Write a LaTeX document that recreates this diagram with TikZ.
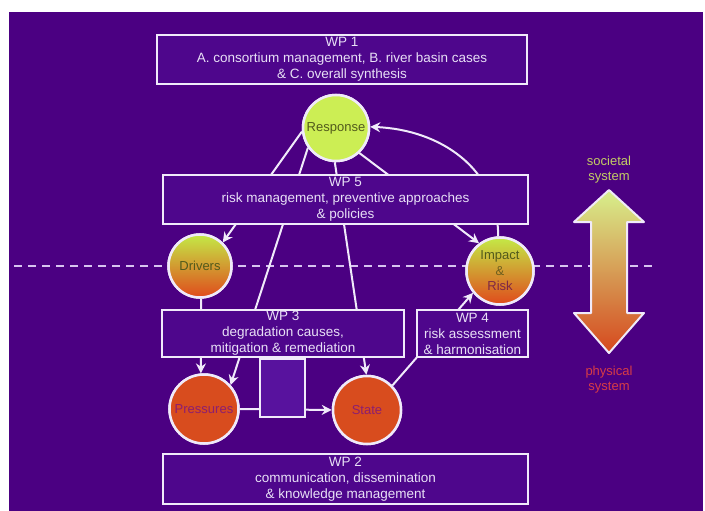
\documentclass[tikz,border=0pt]{standalone}
\usepackage{fontspec}
\setmainfont{Liberation Sans}
\usetikzlibrary{arrows.meta,shapes.geometric}
\definecolor{bg}{RGB}{75,0,130}
\definecolor{boxfill}{RGB}{78,6,140}
\definecolor{smallfill}{RGB}{88,18,158}
\definecolor{edge}{RGB}{240,234,250}
\definecolor{boxtext}{RGB}{232,224,246}
\definecolor{dashcol}{RGB}{215,195,240}
\definecolor{lime}{RGB}{204,238,84}
\definecolor{limetop}{RGB}{196,234,70}
\definecolor{yell}{RGB}{240,236,62}
\definecolor{orng}{RGB}{224,74,28}
\definecolor{redfill}{RGB}{216,76,30}
\definecolor{olive}{RGB}{82,90,28}
\definecolor{ampcol}{RGB}{110,95,30}
\definecolor{riskcol}{RGB}{125,40,70}
\definecolor{purptext}{RGB}{140,30,112}
\definecolor{soccol}{RGB}{195,205,100}
\definecolor{phycol}{RGB}{215,60,70}
\begin{document}
\begin{tikzpicture}[x=1pt,y=-1pt,
  wpbox/.style={draw=edge, line width=2pt, fill=boxfill, text=boxtext, align=center,
    inner sep=0pt, font=\fontsize{13.5}{16}\selectfont},
  circ/.style={circle, draw=edge, line width=2.5pt, inner sep=0pt, align=center,
    font=\fontsize{13}{15.5}\selectfont},
  gradcirc/.style={circ, top color=limetop, middle color=yell, bottom color=orng},
  conn/.style={draw=edge, line width=2pt},
  arr/.style={conn, -{Stealth[length=10pt,width=10pt]}},
  sidelabel/.style={align=center, font=\fontsize{13}{15}\selectfont}
]
\useasboundingbox (0,0) rectangle (705,511);
\fill[white] (0,0) rectangle (705,511);
\fill[bg] (9,12) rectangle (703,511);

% dashed boundary line
\draw[dashcol, line width=1.8pt, dash pattern=on 8pt off 6pt] (14,266) -- (652,266);

% circles (positioned first, drawn again on top later)
\path (336,128) node[circ, fill=lime, minimum size=66pt, text=olive] (resp) {Response};
\path (200,266) node[gradcirc, minimum size=63pt, text=olive] (drv) {Drivers};
\path (500,271) node[gradcirc, minimum size=67pt] (imp)
  {{\color{olive}Impact}\\{\color{ampcol}\&}\\{\color{riskcol}Risk}};
\path (204,409) node[circ, fill=redfill, minimum size=69pt, text=purptext] (prs) {Pressures};
\path (367,410) node[circ, fill=redfill, minimum size=68pt, text=purptext] (st) {State};

% connectors (behind boxes)
\draw[arr] (resp.186) -- (drv.46);
\draw[arr] (resp.215) -- (prs.42);
\draw[arr] (resp.268) -- (st.91);
\draw[arr] (resp.313) -- (imp.127);
\draw[arr] (imp.93) .. controls +(0,-68) and +(70,3) .. (resp.2);
\draw[arr] (drv.272) -- (prs.95);
\draw[arr] (prs.east) -- (st.west);
\draw[arr] (st.44) -- (imp.219);

% small box over Pressures -> State link
\node[draw=edge, line width=2pt, fill=smallfill, minimum width=45pt, minimum height=58pt,
  inner sep=0pt] (gap) at (282.5,387.5) {};

% work package boxes
\node[wpbox, minimum width=370pt, minimum height=49pt] (wp1) at (342,59.5)
  {WP 1\\A. consortium management, B. river basin cases\\\& C. overall synthesis};
\node[wpbox, minimum width=365pt, minimum height=49pt] (wp5) at (345.5,199.5)
  {WP 5\\risk management, preventive approaches\\\& policies};
\node[wpbox, minimum width=242pt, minimum height=47pt] (wp3) at (283,333.5)
  {WP 3\\degradation causes,\\mitigation \& remediation};
\node[wpbox, minimum width=111pt, minimum height=47pt] (wp4) at (472.5,333.5)
  {WP 4\\risk assessment\\\& harmonisation};
\node[wpbox, minimum width=365pt, minimum height=50pt] (wp2) at (345.5,479)
  {WP 2\\communication, dissemination\\\& knowledge management};

% circles drawn on top
\path (336,128) node[circ, fill=lime, minimum size=66pt, text=olive] {Response};
\path (200,266) node[gradcirc, minimum size=63pt, text=olive] {Drivers};
\path (500,271) node[gradcirc, minimum size=67pt]
  {{\color{olive}Impact}\\{\color{ampcol}\&}\\{\color{riskcol}Risk}};
\path (204,409) node[circ, fill=redfill, minimum size=69pt, text=purptext] {Pressures};
\path (367,410) node[circ, fill=redfill, minimum size=68pt, text=purptext] {State};

% societal / physical double arrow
\shadedraw[draw=edge, line width=2pt, line join=round,
  top color={rgb,255:red,215;green,240;blue,140},
  middle color={rgb,255:red,238;green,236;blue,100},
  bottom color={rgb,255:red,214;green,72;blue,30}]
  (609,190) -- (644,222) -- (627,222) -- (627,313) -- (644,313) -- (609,353)
  -- (574,313) -- (591,313) -- (591,222) -- (574,222) -- cycle;
\node[sidelabel, text=soccol] (soc) at (609,170) {societal\\system};
\node[sidelabel, text=phycol] (phy) at (609,380) {physical\\system};
\end{tikzpicture}
\end{document}
